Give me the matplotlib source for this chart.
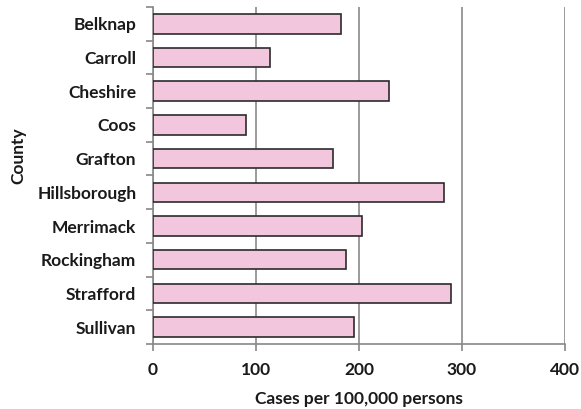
import matplotlib
matplotlib.use("Agg")
import matplotlib.pyplot as plt

counties = ["Belknap", "Carroll", "Cheshire", "Coos", "Grafton", "Hillsborough",
            "Merrimack", "Rockingham", "Strafford", "Sullivan"]
rates = [183, 114, 229, 90, 175, 283, 203, 187, 289, 195]
xticks = [0, 100, 200, 300, 400]

plt.rcParams['font.family'] = ['Lato', 'DejaVu Sans']
plt.rcParams['font.weight'] = 'bold'
FS = 12.5
TC = "#1a1a1a"

fig = plt.figure(figsize=(5.81, 4.09), dpi=100)
ax = fig.add_axes([0.2633, 0.159, 0.7092, 0.824])

y = list(range(len(counties)))
ax.barh(y, rates, height=0.58, color="#F2C6DC", edgecolor="#2b2b2b", linewidth=1.2, zorder=3)
ax.set_ylim(len(counties) - 0.5, -0.5)
ax.set_xlim(0, 400)
ax.set_xticks(xticks)
ax.set_xticklabels([str(t) for t in xticks], fontsize=FS, fontweight='bold', color=TC)
ax.set_yticks(y)
ax.set_yticklabels(counties, fontsize=FS, fontweight='bold', color=TC)
ax.set_yticks([i - 0.5 for i in range(len(counties) + 1)], minor=True)
ax.tick_params(axis='y', which='major', length=0, pad=12)
ax.tick_params(axis='y', which='minor', length=5, color="#888888", width=1.2, direction='out')
ax.tick_params(axis='x', which='major', length=5, color="#888888", width=1.2, direction='out', pad=8)

ax.grid(axis='x', color="#8a8a8a", linewidth=1.2, zorder=0)
for s in ['top', 'right']:
    ax.spines[s].set_visible(False)
for s in ['left', 'bottom']:
    ax.spines[s].set_color("#888888")
    ax.spines[s].set_linewidth(1.2)

ax.set_xlabel("Cases per 100,000 persons", fontsize=FS, fontweight='bold', color=TC, labelpad=9)
fig.text(0.031, 0.62, "County", rotation=90, fontsize=FS, fontweight='bold', color=TC,
         ha='center', va='center')

fig.savefig("out.png", dpi=100)
